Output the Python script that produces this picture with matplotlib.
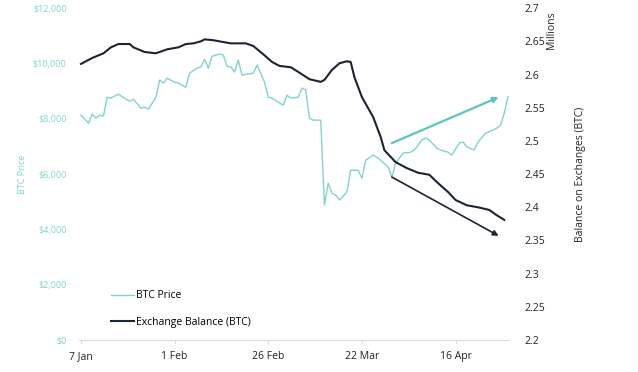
"""BTC price vs exchange balance, Jan-Apr 2020."""

import matplotlib

matplotlib.use("Agg")
import matplotlib.pyplot as plt
import matplotlib.dates as mdates
import pandas as pd
from matplotlib.ticker import FuncFormatter, MultipleLocator

plt.rcParams["font.family"] = ["Open Sans", "DejaVu Sans"]

START = pd.Timestamp("2020-01-07")

# BTC price (USD), day offsets from 7 Jan
price_days = [0, 2, 3, 4, 5, 6, 7, 8, 9, 10, 12, 13, 14, 16, 17, 18, 20, 21, 22, 23,
              25, 26, 28, 29, 31, 32, 33, 34, 35, 37, 38, 39, 40, 41, 42, 43, 44, 46,
              47, 49, 50, 51, 54, 55, 56, 58, 59, 60, 61, 62, 64, 65, 66, 67, 68, 69,
              71, 72, 74, 75, 76, 78, 79, 80, 82, 83, 84, 86, 88, 89, 91, 92, 93, 95,
              96, 98, 99, 101, 102, 103, 105, 106, 108, 110, 111, 112, 113, 114]
price_vals = [8130, 7840, 8170, 8020, 8130, 8100, 8780, 8750, 8820, 8890, 8710, 8640,
              8710, 8380, 8420, 8350, 8780, 9400, 9290, 9470, 9320, 9290, 9140, 9650,
              9830, 9870, 10150, 9830, 10260, 10340, 10300, 9900, 9870, 9690, 10120,
              9580, 9610, 9650, 9940, 9320, 8780, 8750, 8490, 8850, 8750, 8780, 9110,
              9040, 8020, 7950, 7950, 4880, 5670, 5310, 5240, 5060, 5350, 6140, 6140,
              5850, 6500, 6690, 6610, 6500, 6250, 5890, 6400, 6760, 6790, 6870, 7230,
              7300, 7230, 6940, 6870, 6790, 6690, 7120, 7160, 6980, 6870, 7160, 7480,
              7590, 7660, 7770, 8200, 8800]

# Exchange balance (millions of BTC)
bal_days = [0, 3, 6, 8, 10, 13, 14, 17, 20, 21, 23, 26, 28, 30, 32, 33, 35, 38, 40,
            42, 44, 46, 49, 51, 53, 56, 58, 61, 64, 65, 67, 69, 71, 72, 73, 75, 78,
            80, 81, 84, 87, 90, 93, 95, 98, 100, 103, 106, 109, 111, 113]
bal_vals = [2.616, 2.625, 2.632, 2.641, 2.646, 2.646, 2.641, 2.634, 2.632, 2.634,
            2.638, 2.641, 2.646, 2.647, 2.650, 2.653, 2.652, 2.649, 2.647, 2.647,
            2.647, 2.643, 2.629, 2.619, 2.613, 2.611, 2.604, 2.593, 2.589, 2.592,
            2.607, 2.617, 2.620, 2.619, 2.596, 2.566, 2.536, 2.506, 2.486, 2.468,
            2.459, 2.452, 2.449, 2.438, 2.423, 2.411, 2.403, 2.400, 2.396, 2.388,
            2.381]

# trend arrows: (start day, start value, end day, end value)
price_arrow = (83, 7120, 111.5, 8780)
bal_arrow = (83, 2.4455, 111.5, 2.357)

tick_days = [0, 25, 50, 75, 100]

TEAL = "#7fd4cd"
TEAL_ARROW = "#5cc5be"
NAVY = "#1b2433"


def to_dates(days):
    return START + pd.to_timedelta(days, unit="D")


fig = plt.figure(figsize=(6.38, 3.72), dpi=100)
ax = fig.add_axes([0.124, 0.086, 0.674, 0.892])
ax2 = ax.twinx()

ax.plot(to_dates(price_days), price_vals, color=TEAL, lw=1.0, label="BTC Price")
ax2.plot(to_dates(bal_days), bal_vals, color=NAVY, lw=1.5, label="Exchange Balance (BTC)")

d0, v0, d1, v1 = price_arrow
ax.annotate("", xy=(to_dates([d1])[0], v1), xytext=(to_dates([d0])[0], v0),
            arrowprops=dict(arrowstyle="-|>", color=TEAL_ARROW, lw=1.6,
                            mutation_scale=8, shrinkA=0, shrinkB=0))
d0, v0, d1, v1 = bal_arrow
ax2.annotate("", xy=(to_dates([d1])[0], v1), xytext=(to_dates([d0])[0], v0),
             arrowprops=dict(arrowstyle="-|>", color=NAVY, lw=1.2,
                             mutation_scale=8, shrinkA=0, shrinkB=0))

ax.set_xlim(to_dates([-0.5])[0], to_dates([114.3])[0])
ax.set_ylim(0, 12000)
ax2.set_ylim(2.2, 2.7)

ax.yaxis.set_major_locator(MultipleLocator(2000))
ax.yaxis.set_major_formatter(FuncFormatter(lambda v, p: f"${v:,.0f}"))
ax2.yaxis.set_major_locator(MultipleLocator(0.05))
ax2.yaxis.set_major_formatter(FuncFormatter(lambda v, p: f"{v:g}"))

ax.set_xticks(to_dates(tick_days))
ax.xaxis.set_major_formatter(FuncFormatter(
    lambda v, p: f"{mdates.num2date(v).day} {mdates.num2date(v):%b}"))

for a in (ax, ax2):
    for side in ("top", "left", "right"):
        a.spines[side].set_visible(False)
ax2.spines["bottom"].set_visible(False)
ax.spines["bottom"].set_color("#dcdcdc")

ax.tick_params(axis="y", length=0, pad=9, labelsize=6.5, labelcolor=TEAL)
ax.tick_params(axis="x", length=3, color="#dcdcdc", pad=5, labelsize=7.5,
               labelcolor="#222222")
ax2.tick_params(axis="y", length=0, pad=11, labelsize=7.5, labelcolor="#222222")

ax.set_ylabel("BTC Price", color=TEAL, fontsize=6.5)
ax.yaxis.set_label_coords(-0.121, 0.5)
ax2.set_ylabel("Balance on Exchanges (BTC)", color="#222222", fontsize=7.5)
ax2.yaxis.set_label_coords(1.153, 0.5)
fig.text(0.864, 0.92, "Millions", rotation=90, ha="center", va="center",
         fontsize=7.5, color="#222222")

h1, l1 = ax.get_legend_handles_labels()
h2, l2 = ax2.get_legend_handles_labels()
ax2.legend(h1 + h2, l1 + l2, loc="lower left", bbox_to_anchor=(0.07, 0.03),
           frameon=False, fontsize=7.5, handlelength=2.2, handletextpad=0.2,
           labelspacing=1.5, borderaxespad=0, borderpad=0.2)

fig.savefig("out.png", dpi=100)
